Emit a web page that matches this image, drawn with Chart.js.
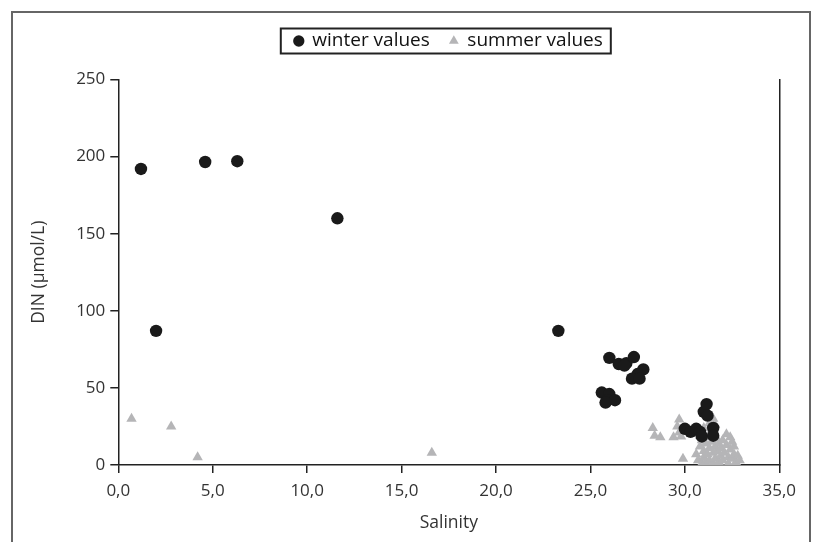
<!DOCTYPE html>
<html>
<head>
<meta charset="utf-8">
<script src="https://cdn.jsdelivr.net/npm/chart.js@4.4.0/dist/chart.umd.min.js"></script>
<style>
  html, body { margin: 0; padding: 0; background: #fff; }
  canvas { display: block; }
</style>
</head>
<body>
<canvas id="dinChart" width="814" height="542"></canvas>
<script>
// values
const winterSalinity = [1.2, 2.0, 4.6, 6.3, 11.6, 23.3,
    25.6, 26.0, 25.9, 26.3, 25.8, 26.0, 26.5, 26.9, 27.3, 27.8, 27.5, 27.2, 27.6, 26.8,
    30.0, 30.3, 30.6, 30.8, 30.9, 31.0, 31.15, 31.2, 31.5, 31.5];
const winterDIN = [192, 87, 196.5, 197, 160, 87,
    47, 46, 42, 42, 40.5, 69.5, 65.5, 66, 70, 62, 59, 56, 56, 64.5,
    23.5, 21.5, 23.5, 21.5, 18.5, 34.5, 39.5, 32, 24, 19];

const summerSalinity = [0.7, 2.8, 4.2, 16.6,
    28.3, 28.4, 28.7, 29.4, 29.6, 29.7, 29.8, 29.9, 29.7,
    30.6, 30.7, 30.8, 30.9, 30.9, 31.0, 31.0, 31.1, 31.1, 31.2, 31.2, 31.3, 31.3,
    31.4, 31.4, 31.5, 31.5, 31.5, 31.6, 31.6, 31.7, 31.7, 31.8, 31.8, 31.9, 31.9,
    32.0, 32.0, 32.1, 32.2, 32.2, 32.3, 32.3, 32.4, 32.4, 32.5, 32.5, 32.6, 32.6,
    32.7, 32.8, 32.9, 31.6, 31.3, 30.8, 31.0];
const summerDIN = [30, 25, 5, 8,
    24, 19, 18, 18, 25, 29.5, 18.5, 4, 21,
    7, 3, 12, 16, 1, 9, 5, 14, 2, 18, 7, 11, 3,
    22, 15, 30, 8, 1, 12, 4, 17, 9, 2, 14, 6, 11,
    3, 16, 8, 20, 13, 5, 1, 18, 10, 15, 4, 7, 12,
    2, 6, 3, 26, 27, 19, 24];

const xTickLabels = ['0,0', '5,0', '10,0', '15,0', '20,0', '25,0', '30,0', '35,0'];
const yTickLabels = ['0', '50', '100', '150', '200', '250'];

const toPoints = (xs, ys) => xs.map((x, i) => ({ x: x, y: ys[i] }));

const fontFamily = '"Open Sans", "DejaVu Sans", sans-serif';
Chart.defaults.font.family = fontFamily;
Chart.defaults.color = '#333';

// outer frame + box round the legend
const framePlugin = {
    id: 'frame',
    beforeDraw(chart) {
        const ctx = chart.ctx;
        ctx.save();
        ctx.fillStyle = '#fff';
        ctx.fillRect(0, 0, chart.width, chart.height);
        ctx.restore();
    },
    afterDraw(chart) {
        const ctx = chart.ctx;
        ctx.save();
        ctx.strokeStyle = '#666';
        ctx.lineWidth = 2;
        ctx.beginPath();
        ctx.moveTo(12, chart.height);
        ctx.lineTo(12, 12);
        ctx.lineTo(810, 12);
        ctx.lineTo(810, chart.height);
        ctx.stroke();

        const boxes = chart.legend.legendHitBoxes;
        if (boxes && boxes.length) {
            const first = boxes[0];
            const last = boxes[boxes.length - 1];
            const cy = first.top + first.height / 2;
            ctx.strokeStyle = '#222';
            ctx.lineWidth = 2;
            ctx.strokeRect(first.left - 14, cy - 12.5, last.left + last.width + 8 - (first.left - 14), 25);
        }
        ctx.restore();
    }
};

const ctx = document.getElementById('dinChart').getContext('2d');

new Chart(ctx, {
    type: 'scatter',
    data: {
        datasets: [{
            label: 'winter values',
            data: toPoints(winterSalinity, winterDIN),
            pointStyle: 'circle',
            pointRadius: 6.2,
            backgroundColor: '#1a1a1a',
            borderColor: '#1a1a1a',
            borderWidth: 0
        }, {
            label: 'summer values',
            data: toPoints(summerSalinity, summerDIN),
            pointStyle: 'triangle',
            pointRadius: 6,
            backgroundColor: '#b5b5b7',
            borderColor: '#b5b5b7',
            borderWidth: 0
        }]
    },
    options: {
        responsive: false,
        animation: false,
        layout: {
            padding: { top: 11.5, right: 34.7, bottom: 0, left: 0 }
        },
        plugins: {
            legend: {
                display: true,
                position: 'top',
                fullSize: false,
                labels: {
                    usePointStyle: true,
                    boxWidth: 8,
                    boxHeight: 8,
                    padding: 20,
                    color: '#111',
                    font: { size: 19 }
                }
            },
            // empty spacer between the legend and the plot
            title: {
                display: true,
                text: ' ',
                position: 'top',
                weight: 500,
                font: { size: 10 },
                padding: { top: 0, bottom: 7 }
            },
            tooltip: { enabled: false }
        },
        scales: {
            x: {
                type: 'linear',
                min: 0,
                max: 35,
                afterFit: (scale) => { scale.height = 77; },
                afterBuildTicks: (scale) => {
                    scale.ticks = xTickLabels.map((t, i) => ({ value: i * 5 }));
                },
                ticks: {
                    autoSkip: false,
                    maxRotation: 0,
                    padding: 8,
                    color: '#333',
                    font: { size: 17 },
                    callback: (value, index) => xTickLabels[index]
                },
                grid: {
                    drawOnChartArea: false,
                    drawTicks: true,
                    tickLength: 8,
                    color: '#222',
                    lineWidth: 1.5
                },
                border: { display: true, color: '#222', width: 1.5 },
                title: {
                    display: true,
                    text: 'Salinity',
                    color: '#333',
                    font: { size: 17.5 },
                    padding: { top: 4, bottom: 8 }
                }
            },
            y: {
                type: 'linear',
                min: 0,
                max: 250,
                afterFit: (scale) => { scale.width = 118.3; },
                afterBuildTicks: (scale) => {
                    scale.ticks = yTickLabels.map((t, i) => ({ value: i * 50 }));
                },
                ticks: {
                    autoSkip: false,
                    padding: 5,
                    color: '#333',
                    font: { size: 17 },
                    callback: (value, index) => yTickLabels[index]
                },
                grid: {
                    drawOnChartArea: false,
                    drawTicks: true,
                    tickLength: 8,
                    color: '#222',
                    lineWidth: 1.5
                },
                border: { display: true, color: '#222', width: 1.5 },
                title: {
                    display: true,
                    text: 'DIN (µmol/L)',
                    color: '#333',
                    font: { size: 17.5 },
                    padding: { top: 29, bottom: 0 }
                }
            },
            y2: {
                type: 'linear',
                position: 'right',
                min: 0,
                max: 250,
                afterFit: (scale) => { scale.width = 0; },
                ticks: { display: false },
                grid: { drawOnChartArea: false, drawTicks: false },
                border: { display: true, color: '#222', width: 1.5 }
            }
        }
    },
    plugins: [framePlugin]
});
</script>
</body>
</html>
